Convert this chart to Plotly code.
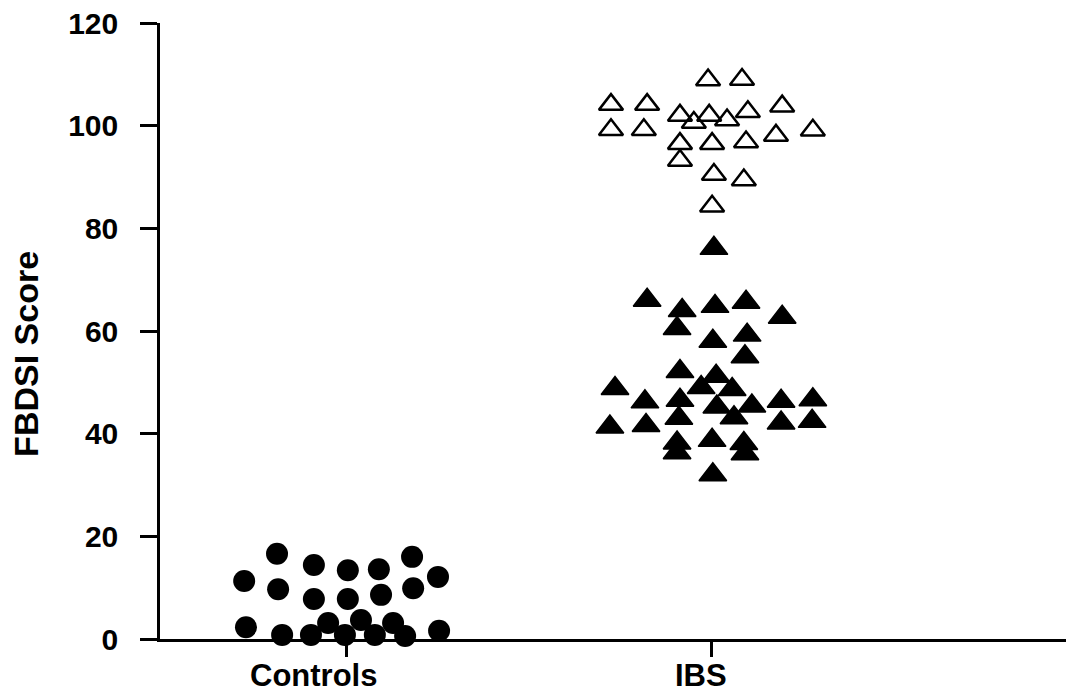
import plotly.graph_objects as go

# ---- data ----
categories = ["Controls", "IBS"]
category_pos = [1, 2]

controls_jitter = [-0.279, -0.189, -0.186, -0.088, -0.088, 0.005, 0.005, 0.090, 0.096, 0.181, 0.184, 0.252,
                   -0.274, -0.175, -0.096, -0.049, -0.003, 0.041, 0.079, 0.129, 0.162, 0.255]
controls_score = [11.3, 16.6, 9.7, 14.4, 7.8, 13.4, 7.8, 13.6, 8.6, 16.0, 9.9, 12.1,
                  2.3, 0.8, 0.8, 3.1, 0.8, 3.7, 0.8, 3.1, 0.6, 1.6]

ibs_open_jitter = [-0.008, 0.085, -0.274, -0.175, -0.085, -0.047, -0.005, 0.044, 0.101, 0.195,
                   -0.274, -0.184, -0.085, 0.003, 0.096, 0.178, 0.279, -0.085, 0.008, 0.090, 0.003]
ibs_open_score = [108.9, 109.0, 104.1, 104.1, 102.0, 100.6, 102.0, 101.1, 102.7, 103.8,
                  99.2, 99.2, 96.5, 96.5, 96.8, 98.1, 99.1, 93.2, 90.5, 89.4, 84.3]

ibs_filled_jitter = [0.008, -0.175, -0.079, 0.011, 0.096, 0.195, -0.093, 0.099, 0.005, 0.093,
                     -0.085, 0.014, -0.027, 0.058, -0.263, -0.181, -0.085, 0.016, 0.112, 0.192,
                     0.279, -0.088, 0.063, -0.277, -0.178, 0.192, 0.277, -0.093, 0.003, 0.090,
                     -0.093, 0.093, 0.005]
ibs_filled_score = [76.1, 66.0, 64.0, 64.8, 65.6, 62.7, 60.5, 59.2, 58.0, 55.0,
                    52.1, 51.2, 49.0, 48.6, 48.8, 46.2, 46.5, 45.2, 45.4, 46.3,
                    46.6, 43.0, 43.1, 41.3, 41.6, 42.1, 42.4, 38.2, 38.7, 38.1,
                    36.3, 36.1, 32.0]

y_ticks = [0, 20, 40, 60, 80, 100, 120]
y_title = "FBDSI Score"

FONT = "Liberation Sans, Arial, Helvetica, sans-serif"

fig = go.Figure()
fig.add_trace(go.Scatter(
    x=[category_pos[0] + j for j in controls_jitter], y=controls_score,
    mode="markers", cliponaxis=False,
    marker=dict(symbol="circle", size=22, color="black", line=dict(width=0)),
    showlegend=False))
fig.add_trace(go.Scatter(
    x=[category_pos[1] + j for j in ibs_filled_jitter], y=ibs_filled_score,
    mode="markers", cliponaxis=False,
    marker=dict(symbol="triangle-up", size=24, color="black", line=dict(width=1.5, color="black")),
    showlegend=False))
fig.add_trace(go.Scatter(
    x=[category_pos[1] + j for j in ibs_open_jitter], y=ibs_open_score,
    mode="markers", cliponaxis=False,
    marker=dict(symbol="triangle-up-open", size=21, color="black", line=dict(width=2.5, color="black")),
    showlegend=False))

fig.update_layout(
    width=1066, height=696,
    margin=dict(l=160, r=0, t=23, b=57, pad=0),
    paper_bgcolor="white", plot_bgcolor="white",
    font=dict(family=FONT, color="black"),
    xaxis=dict(range=[0.4904, 2.9726], tickvals=category_pos, ticktext=categories,
               showticklabels=False, showgrid=False, zeroline=False,
               showline=True, linecolor="black", linewidth=2.5,
               ticks="outside", ticklen=15, tickwidth=2.5, tickcolor="black"),
    yaxis=dict(range=[0, 120], tickvals=y_ticks, showgrid=False, zeroline=False,
               showline=True, linecolor="black", linewidth=2.5,
               ticks="outside", ticklen=17, tickwidth=2.5, tickcolor="black",
               ticklabelstandoff=16,
               tickfont=dict(family=FONT, size=30, color="black", weight="bold")),
)

# category labels
fig.add_annotation(x=0.910, y=-0.060, xref="x", yref="paper", text="<b>Controls</b>",
                   showarrow=False, xanchor="center", yanchor="middle",
                   font=dict(family=FONT, size=31, color="black"))
fig.add_annotation(x=1.973, y=-0.060, xref="x", yref="paper", text="<b>IBS</b>",
                   showarrow=False, xanchor="center", yanchor="middle",
                   font=dict(family=FONT, size=31, color="black"))
# y title
fig.add_annotation(x=-0.148, y=0.4627, xref="paper", yref="paper", text="<b>" + y_title + "</b>",
                   showarrow=False, xanchor="center", yanchor="middle", textangle=-90,
                   font=dict(family=FONT, size=34, color="black"))

fig.write_html("out.html")
